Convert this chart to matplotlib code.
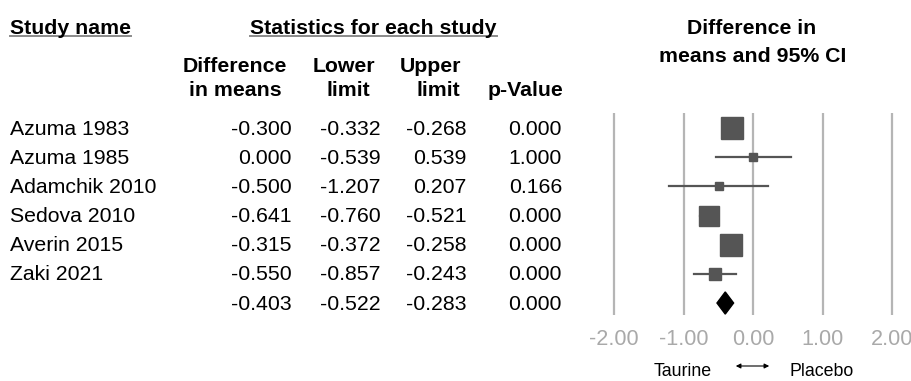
import matplotlib
matplotlib.use('Agg')
import matplotlib.pyplot as plt
from matplotlib.lines import Line2D
import numpy as np

plt.rcParams['font.family'] = ['Liberation Sans', 'DejaVu Sans']

studies = ['Azuma 1983', 'Azuma 1985', 'Adamchik 2010', 'Sedova 2010',
           'Averin 2015', 'Zaki 2021']
diff = [-0.300, 0.000, -0.500, -0.641, -0.315, -0.550]
lower = [-0.332, -0.539, -1.207, -0.760, -0.372, -0.857]
upper = [-0.268, 0.539, 0.207, -0.521, -0.258, -0.243]
pval = [0.000, 1.000, 0.166, 0.000, 0.000, 0.000]
weights = [29.3, 4.5, 4.5, 23.7, 28.6, 9.4]

pooled = -0.403
pooled_lo = -0.522
pooled_hi = -0.283
pooled_p = 0.000

xticks = [-2, -1, 0, 1, 2]

W, H = 912, 381
fig = plt.figure(figsize=(W / 100, H / 100), dpi=100)
fig.patch.set_facecolor('white')

def px(x, y):
    return x / W, 1 - y / H

def put(x, y, s, **kw):
    fx, fy = px(x, y)
    kw.setdefault('fontsize', 15.3)
    kw.setdefault('va', 'center_baseline')
    fig.text(fx, fy, s, **kw)

def hline(x0, x1, y, color='#8a8a8a', lw=1.4):
    a, b = px(x0, y)
    c, d = px(x1, y)
    fig.add_artist(Line2D([a, c], [b, d], color=color, lw=lw, transform=fig.transFigure))

# headers
put(10, 26, 'Study name', fontweight='bold', ha='left')
hline(10, 131, 36)
put(373, 26, 'Statistics for each study', fontweight='bold', ha='center')
hline(250, 497, 36)
put(235, 64, 'Difference', fontweight='bold', ha='center')
put(235, 89, 'in means', fontweight='bold', ha='center')
put(344, 64, 'Lower', fontweight='bold', ha='center')
put(348, 89, 'limit', fontweight='bold', ha='center')
put(431, 64, 'Upper', fontweight='bold', ha='center')
put(438, 89, 'limit', fontweight='bold', ha='center')
put(525, 89, 'p-Value', fontweight='bold', ha='center')
put(752, 27, 'Difference in', fontweight='bold', ha='center')
put(753, 55, 'means and 95% CI', fontweight='bold', ha='center')

# table rows
row0, step = 128, 29.17
cols = [292, 381, 467, 562]
rows = list(zip(studies, diff, lower, upper, pval)) + [('', pooled, pooled_lo, pooled_hi, pooled_p)]
for i, (name, d, lo, hi, p) in enumerate(rows):
    y = row0 + step * i + 1
    put(10, y, name, ha='left', va='center')
    for cx, v in zip(cols, [d, lo, hi, p]):
        put(cx, y, '%.3f' % v, ha='right', va='center')

# forest panel
x0_px, x1_px = 600.2, 906.4
top_px, bot_px = 113, 315
ax = fig.add_axes([x0_px / W, 1 - bot_px / H, (x1_px - x0_px) / W, (bot_px - top_px) / H])
ax.set_xlim(-2.2, 2.2)
ax.set_ylim((bot_px - row0) / step, (top_px - row0) / step)
for s in ax.spines.values():
    s.set_visible(False)
for t in xticks:
    ax.axvline(t, color='#b5b5b5', lw=1.6, zorder=0)

grey = '#555555'
for i in range(len(studies)):
    ax.plot([lower[i], upper[i]], [i, i], color=grey, lw=1.6, zorder=2)
    side = 4.2 * np.sqrt(weights[i]) * 0.72
    ax.plot(diff[i], i, marker='s', ms=side, color=grey, mec=grey, zorder=3)

k = len(studies)
h = 0.38
ax.fill([pooled_lo, pooled, pooled_hi, pooled], [k, k - h, k, k + h],
        color='black', zorder=3)

ax.set_yticks([])
ax.set_xticks(xticks)
ax.set_xticklabels(['%.2f' % t for t in xticks], color='#a9a9a9', fontsize=15.6)
ax.tick_params(axis='x', length=0, pad=10)

put(683, 371, 'Taurine', ha='center', fontsize=12.8, va='center')
put(822, 371, 'Placebo', ha='center', fontsize=12.8, va='center')
a0 = px(733, 366)
a1 = px(772, 366)
fig.add_artist(matplotlib.patches.FancyArrowPatch(
    a0, a1, transform=fig.transFigure, arrowstyle='<|-|>',
    mutation_scale=7, color='black', lw=0.8))

fig.savefig('out.png', dpi=100)
